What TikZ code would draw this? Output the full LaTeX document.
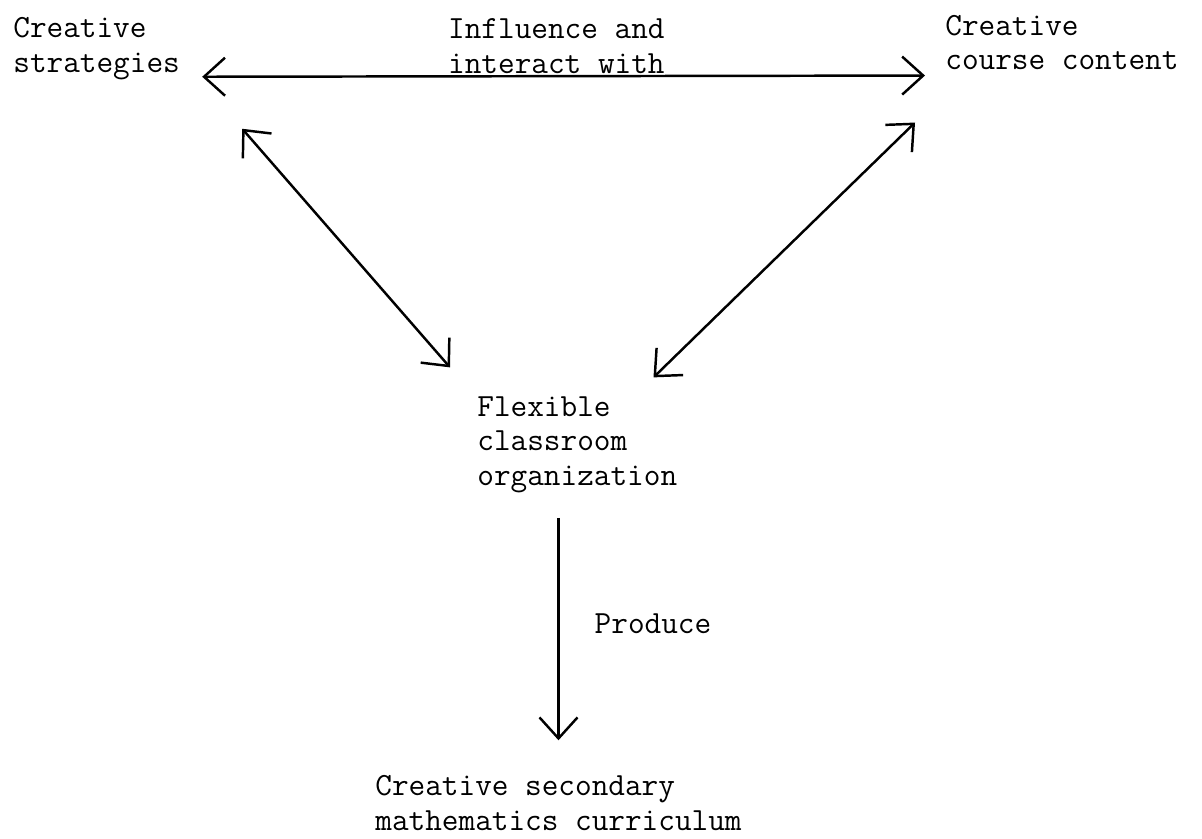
\documentclass[tikz,border=0pt]{standalone}
\usepackage{fontspec}
\usepackage{tikz}
\usetikzlibrary{arrows.meta, calc}

\begin{document}
\begin{tikzpicture}[
  x=0.02cm, y=-0.02cm,
  txt/.style={inner sep=0pt,anchor=base west,align=left,
              font=\ttfamily\fontsize{18.4}{19.5}\selectfont},
  arrow/.style={-{Straight Barb[length=0.42cm,width=0.76cm]},line width=1.4pt},
  dblarrow/.style={{Straight Barb[length=0.42cm,width=0.76cm]}-{Straight Barb[length=0.42cm,width=0.76cm]},line width=1.4pt}
]
  \useasboundingbox (0,0) rectangle (1202,838);

  \node[txt] (strat) at (13,72) {Creative\\strategies};
  \node[txt] (content) at (945,70) {Creative\\course content};
  \node[txt] (flex) at (477,485) {Flexible\\classroom\\organization};
  \node[txt] (curric) at (375,830) {Creative secondary\\mathematics curriculum};

  \draw[dblarrow] ($(strat.south east)+(22,-3)$) -- ($(content.south west)+(-20,5)$)
    node[txt, anchor=base, pos=0.49, yshift=0.06cm] (infl) {Influence and\\interact with};
  \draw[dblarrow] ($(strat.south east)+(62,49)$) -- ($(flex.north west)+(-27,-29)$);
  \draw[dblarrow] ($(content.south west)+(-30,52)$) -- ($(flex.north east)+(-24,-19)$);
  \draw[arrow] ($(flex.south -| curric.north)+(0,25)$) -- ($(curric.north)+(0,-35)$)
    node[txt, pos=0.52, xshift=0.7cm] (produce) {Produce};
\end{tikzpicture}
\end{document}
